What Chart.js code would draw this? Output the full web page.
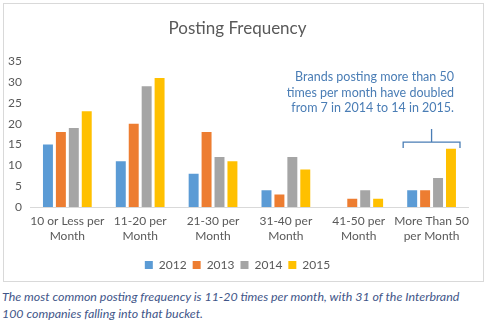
<!DOCTYPE html>
<html>
<head>
<meta charset="utf-8">
<script src="https://cdn.jsdelivr.net/npm/chart.js@4.4.1/dist/chart.umd.min.js"></script>
<style>
  body { margin: 0; background: #fff; width: 494px; height: 332px; overflow: hidden; }
  #box { position: absolute; left: 3px; top: 3px; width: 479px; height: 277px; border: 1px solid #d9d9d9; }
  #caption { position: absolute; left: 2px; top: 288px; width: 476px; font-family: Lato, sans-serif; font-style: italic;
             font-size: 12.4px; line-height: 17px; color: #3f5689; }
</style>
</head>
<body>
<div id="box"><canvas id="postingchart" width="479" height="277"></canvas></div>
<div id="caption">The most common posting frequency is 11-20 times per month, with 31 of the Interbrand 100 companies falling into that bucket.</div>
<script>
const categories = [
    ["10 or Less per", "Month"],
    ["11-20 per", "Month"],
    ["21-30 per", "Month"],
    ["31-40 per", "Month"],
    ["41-50 per", "Month"],
    ["More Than 50", "per Month"]
];
const years = ["2012", "2013", "2014", "2015"];
const data2012 = [15, 11, 8, 4, 0, 4];
const data2013 = [18, 20, 18, 3, 2, 4];
const data2014 = [19, 29, 12, 12, 4, 7];
const data2015 = [23, 31, 11, 9, 2, 14];
const yTicks = [0, 5, 10, 15, 20, 25, 30, 35];
const noteLines = ["Brands posting more than 50", "times per month have doubled", "from 7 in 2014 to 14 in 2015."];

const colors = ["#5b9bd5", "#ed7d31", "#a5a5a5", "#ffc000"];
const postingChart = document.getElementById("postingchart");

// note text + bracket over the last bucket
const notePlugin = {
    id: "note",
    afterDraw(chart) {
        const ctx = chart.ctx;
        const x = chart.scales.x;
        const y = chart.scales.y;
        ctx.save();
        ctx.fillStyle = "#4a7db5";
        ctx.font = "12.5px Lato, sans-serif";
        ctx.textAlign = "right";
        ctx.textBaseline = "middle";
        noteLines.forEach((t, i) => ctx.fillText(t, 450, 73 + i * 15.5));

        const cx = x.getPixelForValue(5);
        const half = x.width / categories.length * 0.39;
        const by = y.getPixelForValue(15.6);
        ctx.strokeStyle = "#4a7db5";
        ctx.lineWidth = 1.3;
        ctx.beginPath();
        ctx.moveTo(cx - half, by + 6);
        ctx.lineTo(cx - half, by);
        ctx.lineTo(cx + half, by);
        ctx.lineTo(cx + half, by + 6);
        ctx.moveTo(cx, by);
        ctx.lineTo(cx, by - 13);
        ctx.stroke();
        ctx.restore();
    }
};

const postingChartInstance = new Chart(postingChart, {
    type: "bar",
    data: {
        labels: categories,
        datasets: [
            { label: years[0], data: data2012, backgroundColor: colors[0] },
            { label: years[1], data: data2013, backgroundColor: colors[1] },
            { label: years[2], data: data2014, backgroundColor: colors[2] },
            { label: years[3], data: data2015, backgroundColor: colors[3] }
        ]
    },
    options: {
        responsive: false,
        animation: false,
        datasets: {
            bar: { categoryPercentage: 0.71, barPercentage: 0.77 }
        },
        layout: { padding: { left: 3, right: 15, top: 6, bottom: 0 } },
        plugins: {
            title: {
                display: true,
                text: "Posting Frequency",
                color: "#595959",
                font: { family: "Lato", size: 17, weight: "normal" },
                padding: { top: 8, bottom: 23 }
            },
            legend: {
                position: "bottom",
                labels: {
                    color: "#595959",
                    font: { family: "Lato", size: 12 },
                    boxWidth: 8,
                    boxHeight: 8,
                    padding: 6
                }
            },
            tooltip: { enabled: false }
        },
        scales: {
            x: {
                grid: { display: false },
                border: { display: true, color: "#d9d9d9" },
                ticks: { color: "#595959", font: { family: "Lato", size: 12, lineHeight: 1.3 }, maxRotation: 0, autoSkip: false, padding: -2 },
                afterFit: (axis) => { axis.height = 46; }
            },
            y: {
                min: 0,
                max: 35,
                afterBuildTicks: (axis) => { axis.ticks = yTicks.map(v => ({ value: v })); },
                grid: { display: false },
                border: { display: false },
                ticks: { color: "#595959", font: { family: "Lato", size: 12 }, padding: 1 }
            }
        }
    },
    plugins: [notePlugin]
});
</script>
</body>
</html>
